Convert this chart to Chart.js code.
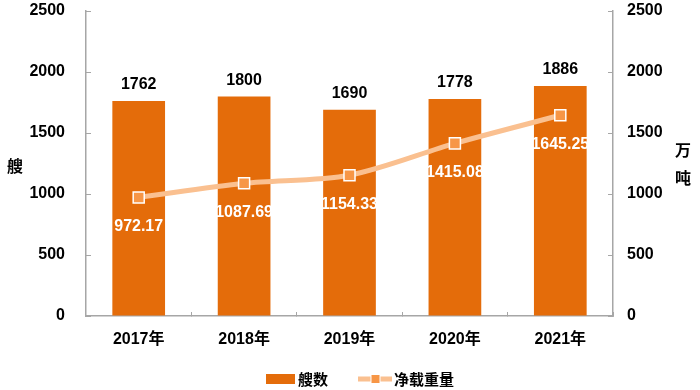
<!DOCTYPE html>
<html><head><meta charset="utf-8">
<script src="https://cdn.jsdelivr.net/npm/chart.js@4.4.1/dist/chart.umd.min.js"></script>
<style>html,body{margin:0;padding:0;background:#fff}#wrap{width:700px;height:390px;position:relative}</style>
</head><body><div id="wrap"><canvas id="c" width="700" height="390"></canvas></div>
<script>
const categories = ['2017年', '2018年', '2019年', '2020年', '2021年'];
const shipCounts = [1762, 1800, 1690, 1778, 1886];
const netTonnage = [972.17, 1087.69, 1154.33, 1415.08, 1645.25];
const tickValues = [0, 500, 1000, 1500, 2000, 2500];
const seriesNames = ['艘数', '净载重量'];
const leftAxisTitle = ['艘'];
const rightAxisTitle = ['万', '吨'];

const BAR = '#E46C0A', LINE = '#FAC090', MARK = '#F79646', AXIS = '#A6A6A6';
const FONT = '"Liberation Sans", Arial, "Noto Sans CJK SC", sans-serif';
const CJK = '"Noto Sans CJK SC", "Liberation Sans", sans-serif';

const extras = {
  id: 'extras',
  afterDatasetsDraw(chart) {
    const ctx = chart.ctx;
    ctx.save();
    ctx.textAlign = 'center'; ctx.textBaseline = 'middle';
    ctx.font = 'bold 16px ' + FONT;
    const mb = chart.getDatasetMeta(0);
    mb.data.forEach((el, i) => { ctx.fillStyle = '#000'; ctx.fillText(String(shipCounts[i]), el.x, el.y - 16); });
    const ml = chart.getDatasetMeta(1);
    ml.data.forEach((el, i) => { ctx.fillStyle = '#fff'; ctx.fillText(netTonnage[i].toFixed(2), el.x, el.y + 29); });
    ctx.restore();
  },
  afterDraw(chart) {
    const ctx = chart.ctx, a = chart.chartArea;
    ctx.save();
    // inward tick marks on both value axes
    ctx.strokeStyle = AXIS; ctx.lineWidth = 1;
    const sy = chart.scales.y, sy1 = chart.scales.y1;
    tickValues.forEach(v => {
      const p = Math.round(sy.getPixelForValue(v)) + 0.5;
      ctx.beginPath(); ctx.moveTo(a.left, p); ctx.lineTo(a.left + 5, p); ctx.stroke();
      const q = Math.round(sy1.getPixelForValue(v)) + 0.5;
      ctx.beginPath(); ctx.moveTo(a.right, q); ctx.lineTo(a.right - 5, q); ctx.stroke();
    });
    ctx.fillStyle = '#000'; ctx.textAlign = 'center'; ctx.textBaseline = 'middle';
    ctx.font = 'bold 16px ' + CJK;
    const midY = (a.top + a.bottom) / 2;
    leftAxisTitle.forEach((t, i) => ctx.fillText(t, 15, midY + 2 + i * 28));
    rightAxisTitle.forEach((t, i) => ctx.fillText(t, 683, midY - 14 + i * 28));
    // legend
    const ly = 379;
    ctx.fillStyle = BAR; ctx.fillRect(266, ly - 5, 29, 10);
    ctx.font = 'bold 15px ' + CJK; ctx.textAlign = 'left'; ctx.fillStyle = '#000';
    ctx.fillText(seriesNames[0], 298, ly);
    ctx.strokeStyle = LINE; ctx.lineWidth = 5; ctx.beginPath(); ctx.moveTo(358, ly); ctx.lineTo(392, ly); ctx.stroke();
    ctx.fillStyle = MARK; ctx.fillRect(371, ly - 4.5, 9, 9);
    ctx.strokeStyle = '#fff'; ctx.lineWidth = 1; ctx.strokeRect(371, ly - 4.5, 9, 9);
    ctx.fillStyle = '#000'; ctx.fillText(seriesNames[1], 394, ly);
    ctx.restore();
  }
};

const yCommon = {
  min: 0, max: 2500,
  afterBuildTicks: s => { s.ticks = tickValues.map(v => ({ value: v })); },
  grid: { drawOnChartArea: false, drawTicks: true, color: 'rgba(0,0,0,0)' },
  border: { display: true, color: AXIS, width: 1.5 },
};

new Chart(document.getElementById('c'), {
  data: {
    labels: categories,
    datasets: [
      { type: 'bar', label: seriesNames[0], data: shipCounts, backgroundColor: BAR, yAxisID: 'y',
        barPercentage: 0.5, categoryPercentage: 1, order: 2 },
      { type: 'line', label: seriesNames[1], data: netTonnage, yAxisID: 'y1', borderColor: LINE, borderWidth: 5,
        tension: 0.3, pointStyle: 'rect', pointRadius: 7.8, pointHoverRadius: 7.8, pointBackgroundColor: MARK,
        pointBorderColor: '#fff', pointBorderWidth: 1.5, order: 1 }
    ]
  },
  options: {
    responsive: false, animation: false, devicePixelRatio: 1,
    layout: { padding: { top: 11, bottom: 34, left: 0, right: 0 } },
    plugins: { legend: { display: false }, tooltip: { enabled: false } },
    scales: {
      x: {
        offset: true,
        grid: { drawOnChartArea: false, drawTicks: true, tickLength: -4, offset: true, color: AXIS },
        border: { display: true, color: AXIS, width: 1.5 },
        ticks: { color: '#000', font: { family: FONT, size: 16, weight: 'bold' }, padding: 18, maxRotation: 0 },
        afterFit: s => { s.height = 40; }
      },
      y: Object.assign({}, yCommon, {
        position: 'left',
        grid: Object.assign({}, yCommon.grid, { tickLength: 21 }),
        ticks: { color: '#000', font: { family: FONT, size: 16, weight: 'bold' }, padding: 0, callback: v => String(v) },
        afterFit: s => { s.width = 86; }
      }),
      y1: Object.assign({}, yCommon, {
        position: 'right',
        grid: Object.assign({}, yCommon.grid, { tickLength: 14 }),
        ticks: { color: '#000', font: { family: FONT, size: 16, weight: 'bold' }, padding: 0, callback: v => String(v) },
        afterFit: s => { s.width = 87; }
      })
    }
  },
  plugins: [extras]
});
</script>
</body></html>
